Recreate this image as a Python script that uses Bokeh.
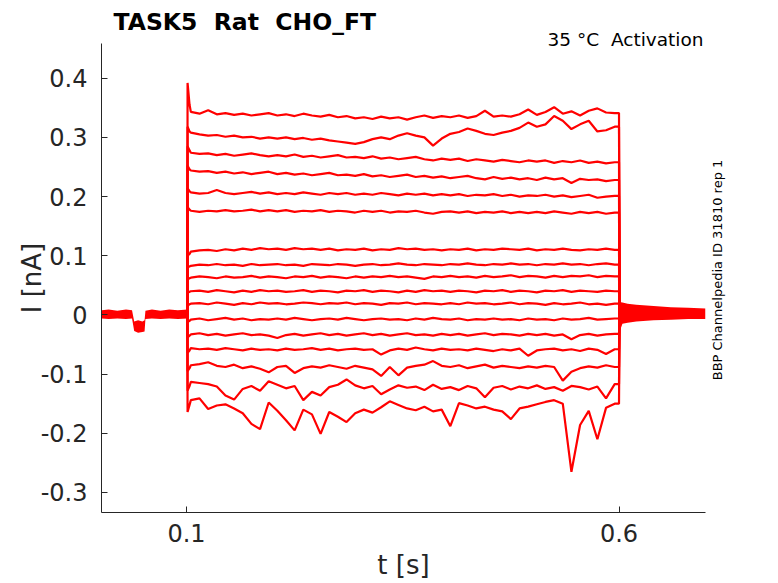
import numpy as np
from bokeh.plotting import figure
from bokeh.models import Range1d, FixedTicker, LinearAxis, Title
from bokeh.embed import file_html
from bokeh.resources import INLINE

# ---------------- data (currents in pA) ----------------
# sample times during the voltage step (s)
t_step = [round(0.105 + 0.01 * k, 4) for k in range(50)]
t_onset = [0.1012, 0.1035]          # onset transient samples
t_on_edge = 0.1010                   # step on
t_end = 0.6
t_off_edge = 0.6007                  # step off

onset_peak = [392, 318, 285, 252, 214, 182, 100, 80, 60, 38, 16, -12, -38, -64, -95, -128, -164]
onset_early = [355, 310, 278, 246, 209, 178, 103, 82, 62, 39, 18, -10, -35, -60, -90, -120, -152]

trace_01 = [343, 340, 346, 339, 341, 338, 340, 337, 339, 341, 337, 339, 336, 340, 337, 335, 338, 334, 336, 332,
            334, 331, 335, 332, 334, 330, 334, 337, 333, 336, 334, 337, 333, 336, 345, 335, 337, 335, 339, 347,
            338, 343, 351, 340, 344, 337, 345, 349, 342, 341]
trace_02 = [308, 305, 303, 304, 301, 303, 300, 301, 298, 300, 298, 300, 297, 299, 296, 298, 295, 293, 291, 289,
            292, 297, 300, 297, 303, 307, 303, 300, 286, 298, 306, 309, 315, 311, 306, 304, 308, 311, 316, 325,
            318, 322, 336, 328, 314, 322, 328, 310, 312, 318]
trace_03 = [274, 272, 273, 270, 272, 269, 271, 273, 270, 268, 270, 268, 271, 267, 269, 266, 268, 270, 266, 267,
            265, 268, 264, 266, 263, 265, 267, 263, 261, 264, 262, 264, 260, 263, 261, 259, 262, 260, 258, 261,
            259, 261, 257, 260, 258, 261, 257, 259, 256, 258]
trace_04 = [244, 242, 243, 240, 242, 239, 241, 238, 240, 242, 238, 240, 237, 239, 236, 238, 240, 236, 237, 235,
            238, 234, 236, 233, 235, 237, 233, 235, 232, 234, 231, 233, 235, 231, 229, 233, 230, 232, 229, 231,
            228, 232, 229, 231, 223, 230, 228, 229, 226, 228]
trace_05 = [207, 205, 206, 211, 206, 204, 206, 208, 205, 207, 204, 206, 204, 207, 205, 203, 206, 204, 206, 203,
            205, 203, 206, 204, 202, 205, 203, 205, 202, 204, 202, 204, 201, 203, 202, 204, 201, 203, 200, 202,
            201, 203, 200, 202, 199, 201, 203, 198, 200, 201]
trace_06 = [176, 174, 176, 175, 177, 175, 176, 178, 175, 177, 175, 177, 174, 176, 175, 177, 174, 176, 175, 173,
            176, 174, 176, 173, 175, 174, 176, 173, 171, 174, 175, 173, 175, 172, 174, 173, 175, 172, 174, 172,
            174, 172, 175, 173, 171, 174, 172, 174, 171, 173]
trace_07 = [107, 109, 110, 108, 111, 109, 112, 110, 113, 111, 112, 110, 113, 111, 112, 110, 112, 109, 111, 110,
            112, 109, 111, 110, 113, 111, 112, 110, 111, 109, 111, 110, 112, 109, 111, 110, 112, 111, 110, 112,
            109, 111, 110, 112, 110, 109, 111, 110, 112, 110]
trace_08 = [83, 85, 84, 86, 84, 85, 83, 86, 84, 85, 86, 84, 85, 83, 86, 85, 84, 86, 85, 83,
            85, 86, 84, 85, 87, 85, 84, 86, 85, 84, 86, 85, 87, 85, 84, 86, 85, 87, 85, 86,
            84, 86, 85, 87, 85, 86, 84, 86, 87, 85]
trace_09 = [63, 65, 64, 62, 65, 63, 64, 66, 63, 65, 64, 62, 65, 64, 66, 63, 65, 64, 62, 65,
            63, 65, 64, 66, 64, 65, 63, 61, 65, 64, 66, 64, 65, 63, 66, 64, 65, 67, 64, 66,
            65, 63, 66, 64, 66, 65, 67, 64, 66, 65]
trace_10 = [40, 41, 39, 42, 40, 38, 41, 39, 42, 40, 41, 39, 40, 42, 39, 41, 40, 38, 41, 40,
            42, 39, 41, 40, 38, 41, 39, 42, 40, 41, 39, 41, 40, 38, 41, 40, 42, 39, 41, 40,
            38, 41, 40, 42, 39, 41, 40, 39, 41, 40]
trace_11 = [19, 20, 18, 21, 19, 17, 20, 18, 21, 19, 20, 18, 19, 21, 20, 18, 20, 19, 21, 18,
            20, 19, 17, 20, 19, 21, 18, 20, 19, 18, 20, 18, 21, 19, 20, 18, 19, 21, 18, 20,
            19, 17, 20, 18, 19, 21, 18, 19, 17, 19]
trace_12 = [-8, -6, -9, -7, -5, -8, -6, -9, -7, -8, -6, -8, -5, -7, -9, -7, -6, -8, -5, -7,
            -9, -7, -6, -8, -7, -9, -6, -8, -5, -7, -8, -6, -9, -7, -8, -6, -8, -7, -9, -6,
            -8, -7, -9, -6, -8, -7, -5, -8, -7, -6]
trace_13 = [-33, -31, -34, -32, -35, -33, -31, -34, -33, -35, -39, -34, -32, -35, -33, -31, -34, -32, -35, -33,
            -31, -34, -32, -35, -33, -31, -34, -33, -35, -32, -34, -32, -35, -33, -31, -34, -32, -33, -35, -32,
            -34, -32, -35, -33, -41, -34, -32, -35, -33, -32]
trace_14 = [-56, -58, -57, -59, -56, -58, -60, -57, -59, -58, -60, -57, -59, -58, -56, -59, -57, -60, -58, -57,
            -59, -58, -67, -60, -57, -59, -55, -58, -60, -57, -59, -58, -60, -57, -59, -61, -58, -60, -57, -69,
            -60, -58, -57, -60, -58, -61, -57, -59, -66, -58]
trace_15 = [-85, -83, -80, -86, -88, -84, -90, -87, -91, -97, -88, -86, -98, -90, -87, -89, -85, -88, -91, -86,
            -89, -92, -103, -88, -102, -89, -86, -84, -78, -86, -88, -85, -90, -87, -84, -89, -86, -88, -90, -87,
            -89, -86, -88, -111, -96, -90, -87, -89, -85, -88]
trace_16 = [-113, -115, -117, -121, -136, -143, -125, -120, -128, -112, -118, -124, -120, -144, -130, -136, -122,
            -118, -109, -119, -124, -120, -134, -126, -119, -123, -121, -127, -118, -125, -122, -127, -120, -124,
            -139, -123, -120, -126, -121, -124, -119, -125, -122, -128, -120, -122, -126, -121, -141, -117]
trace_17 = [-144, -141, -159, -153, -151, -158, -166, -184, -193, -148, -162, -178, -195, -160, -168, -201, -164,
            -172, -181, -166, -160, -165, -156, -146, -152, -158, -161, -155, -163, -160, -188, -149, -153, -158,
            -155, -160, -163, -176, -158, -155, -151, -147, -144, -150, -265, -186, -162, -210, -157, -150]

traces = [trace_01, trace_02, trace_03, trace_04, trace_05, trace_06, trace_07, trace_08, trace_09,
          trace_10, trace_11, trace_12, trace_13, trace_14, trace_15, trace_16, trace_17]

# holding current before the step (overlapping sweeps, band edges in pA)
t_pre = [0.002, 0.01, 0.02, 0.03, 0.037, 0.0395, 0.044, 0.049, 0.0515, 0.0525, 0.06, 0.07, 0.08, 0.09, 0.101]
pre_hi = [8, 9, 7, 9, 8, -11, -9, -11, -9, 7, 9, 7, 9, 8, 9]
pre_lo = [-6, -7, -6, -7, -6, -27, -30, -29, -28, -7, -6, -7, -6, -7, -6]

# tail after the step
t_post = [0.6007, 0.604, 0.61, 0.62, 0.64, 0.66, 0.68, 0.70]
post_hi = [22, 21, 19, 17, 15, 13, 12, 11]
post_lo = [-28, -15, -13, -11, -9, -8, -7, -7]

y_ticks = [-0.3, -0.2, -0.1, 0.0, 0.1, 0.2, 0.3, 0.4]
y_tick_labels = ["-0.3", "-0.2", "-0.1", "0", "0.1", "0.2", "0.3", "0.4"]
x_ticks = [0.1, 0.6]
x_tick_labels = ["0.1", "0.6"]

NB2 = " \u00a0"   # a double space that survives SVG whitespace collapsing
title_text = NB2.join(["TASK5", "Rat", "CHO_FT"])
info_text = NB2.join(["35 °C", "Activation"])
id_text = "BBP Channelpedia ID 31810 rep 1"
id_y = -0.1104

# ---------------- figure ----------------
INK = "#262626"
FONT = "DejaVu Sans"

p = figure(width=762, height=583, output_backend="svg", toolbar_location=None, title=None,
           x_range=Range1d(0.0017, 0.7), y_range=Range1d(-0.3338, 0.4586),
           min_border_left=101, min_border_right=57, min_border_top=43, min_border_bottom=71)
p.outline_line_color = None
p.xgrid.visible = False
p.ygrid.visible = False
p.background_fill_color = "white"
p.border_fill_color = "white"

red = "#ff0000"
p.varea(x=t_pre, y1=[v / 1000 for v in pre_lo], y2=[v / 1000 for v in pre_hi], fill_color=red)
p.varea(x=t_post, y1=[v / 1000 for v in post_lo], y2=[v / 1000 for v in post_hi], fill_color=red)

for i, tr in enumerate(traces):
    xs = [t_on_edge] + t_onset + t_step + [t_end, t_off_edge]
    ys = [0] + [onset_peak[i], onset_early[i]] + tr + [tr[-1], 0]
    p.line(xs, [v / 1000 for v in ys], line_color=red, line_width=2.2)

for ax, ticks, labels in ((p.yaxis[0], y_ticks, y_tick_labels), (p.xaxis[0], x_ticks, x_tick_labels)):
    ax.ticker = FixedTicker(ticks=ticks)
    ax.major_label_overrides = {t: l for t, l in zip(ticks, labels)}
    ax.major_tick_in = 6
    ax.major_tick_out = 0
    ax.minor_tick_line_color = None
    ax.axis_line_color = INK
    ax.major_tick_line_color = INK
    ax.major_label_text_font = FONT
    ax.major_label_text_font_size = "24px"
    ax.major_label_text_color = INK
    ax.axis_label_text_font = FONT
    ax.axis_label_text_font_size = "26px"
    ax.axis_label_text_font_style = "normal"
    ax.axis_label_text_color = INK

p.yaxis.major_label_standoff = 14
p.yaxis.axis_label = "I [nA]"
p.yaxis.axis_label_standoff = -9
p.xaxis.major_label_standoff = 11
p.xaxis.axis_label = "t [s]"
p.xaxis.axis_label_standoff = 5

# cell id, vertical text at the right (single-tick right axis used as a text holder)
right_ax = LinearAxis(ticker=FixedTicker(ticks=[id_y]), major_label_overrides={id_y: id_text},
                      axis_line_color=None, major_tick_line_color=None, minor_tick_line_color=None,
                      major_label_text_font=FONT, major_label_text_font_size="13px",
                      major_label_text_color="black", major_label_standoff=6,
                      major_label_orientation=np.pi / 2)
p.add_layout(right_ax, "right")

# note nearest to the frame, then the main title above it
p.add_layout(Title(text=info_text, align="right", offset=2, standoff=-12, text_font=FONT,
                   text_font_size="18.5px", text_font_style="normal", text_color="black"), "above")
p.add_layout(Title(text=title_text, align="left", offset=12, standoff=-6, text_font=FONT,
                   text_font_size="23.5px", text_font_style="bold", text_color="black"), "above")

open("out.html", "w").write(file_html(p, INLINE))
